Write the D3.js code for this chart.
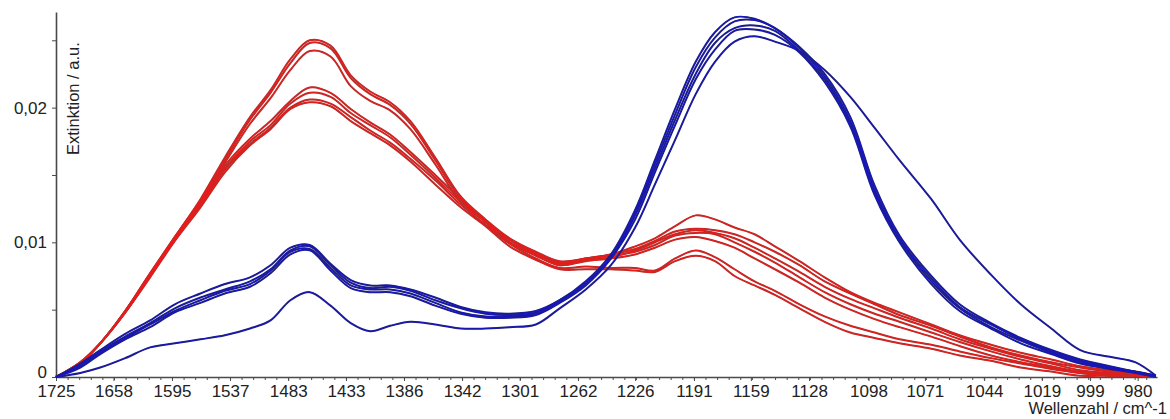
<!DOCTYPE html>
<html><head><meta charset="utf-8">
<script src="https://cdn.jsdelivr.net/npm/d3@7"></script>
<style>
body{margin:0;background:#fff}
svg{display:block}
text{font-family:"Liberation Sans",Arial,sans-serif;fill:#222}
</style>
</head><body>
<svg id="c" width="1170" height="419"></svg>
<script>
// wavenumbers (cm^-1) at which the spectra were read
const wavenumbers = [1725,1696,1673,1645,1618,1592,1566,1542,1518,1499,1481,1464,1446,1429,1413,1397,1381,1362,1343,1325,1308,1290,1274,1257,1241,1226,1214,1202,1190,1179,1168,1157,1146,1133,1120,1107,1095,1083,1068,1055,1041,1028,1015,1003,991,981,973];

// red spectra
const redA = [0,.0011,.0025,.0049,.0077,.0104,.0132,.0163,.0193,.0213,.0236,.0250,.0246,.0224,.0212,.0204,.0190,.0163,.0134,.0117,.0103,.0093,.0086,.0088,.0091,.0097,.0103,.0112,.0120,.0117,.0111,.0106,.0097,.0086,.0074,.0063,.0055,.0048,.0039,.0031,.0024,.0018,.0013,.0008,.0005,.0004,.0001];
const redB = [0,.0011,.0025,.0049,.0077,.0104,.0131,.0161,.0191,.0211,.0233,.0248,.0244,.0222,.0210,.0202,.0188,.0161,.0132,.0116,.0102,.0092,.0085,.0088,.0091,.0095,.0101,.0108,.0110,.0109,.0106,.0100,.0093,.0083,.0071,.0062,.0054,.0046,.0038,.0030,.0022,.0016,.0011,.0007,.0004,.0003,.0001];
const redC = [0,.0011,.0025,.0049,.0076,.0103,.0130,.0159,.0188,.0207,.0228,.0242,.0238,.0216,.0205,.0198,.0184,.0158,.0130,.0115,.0100,.0091,.0083,.0087,.0089,.0094,.0100,.0106,.0109,.0107,.0103,.0096,.0088,.0078,.0067,.0058,.0051,.0044,.0036,.0028,.0021,.0015,.0010,.0005,.0003,.0002,0];
const redD = [0,.0011,.0025,.0048,.0076,.0103,.0129,.0157,.0177,.0190,.0205,.0215,.0211,.0199,.0189,.0180,.0167,.0150,.0132,.0115,.0102,.0091,.0084,.0088,.0090,.0093,.0098,.0105,.0107,.0106,.0100,.0093,.0085,.0074,.0063,.0054,.0047,.0041,.0033,.0026,.0019,.0013,.0008,.0004,.0002,.0001,0];
const redE = [0,.0010,.0025,.0048,.0075,.0103,.0128,.0155,.0175,.0187,.0203,.0211,.0208,.0196,.0187,.0178,.0165,.0148,.0130,.0115,.0100,.0090,.0083,.0086,.0088,.0091,.0096,.0102,.0104,.0101,.0096,.0088,.0080,.0070,.0059,.0050,.0043,.0037,.0030,.0023,.0016,.0011,.0007,.0003,.0001,.0001,0];
const redF = [0,.0010,.0025,.0048,.0075,.0102,.0127,.0154,.0173,.0185,.0200,.0206,.0203,.0193,.0183,.0174,.0162,.0146,.0128,.0113,.0099,.0088,.0081,.0082,.0081,.0081,.0079,.0088,.0094,.0089,.0080,.0071,.0064,.0054,.0045,.0038,.0033,.0028,.0024,.0019,.0014,.0010,.0006,.0003,.0001,.0001,0];
const redG = [0,.0010,.0025,.0048,.0074,.0101,.0126,.0152,.0172,.0184,.0199,.0204,.0201,.0190,.0181,.0172,.0160,.0143,.0126,.0112,.0097,.0087,.0080,.0080,.0080,.0079,.0078,.0086,.0090,.0086,.0075,.0068,.0061,.0051,.0041,.0033,.0029,.0025,.0021,.0016,.0012,.0007,.0004,.0001,.0001,.0001,0];

// blue spectra
const blue1 = [0,.0010,.0020,.0032,.0042,.0054,.0062,.0069,.0074,.0083,.0096,.0098,.0084,.0072,.0068,.0068,.0065,.0059,.0052,.0048,.0047,.0049,.0057,.0071,.0091,.0124,.0161,.0199,.0234,.0256,.0267,.0266,.0259,.0245,.0225,.0193,.0142,.0105,.0075,.0054,.0040,.0029,.0020,.0013,.0008,.0004,.0001];
const blue2 = [0,.0009,.0019,.0030,.0040,.0051,.0059,.0065,.0071,.0080,.0094,.0097,.0083,.0070,.0066,.0067,.0064,.0057,.0051,.0047,.0046,.0048,.0057,.0070,.0089,.0122,.0158,.0195,.0230,.0252,.0264,.0265,.0259,.0244,.0223,.0190,.0139,.0103,.0073,.0052,.0039,.0028,.0019,.0012,.0007,.0004,.0001];
const blue3 = [0,.0008,.0018,.0029,.0039,.0049,.0057,.0064,.0069,.0079,.0093,.0095,.0081,.0068,.0065,.0065,.0062,.0055,.0048,.0045,.0045,.0047,.0056,.0069,.0088,.0120,.0155,.0191,.0225,.0248,.0259,.0261,.0257,.0242,.0221,.0188,.0137,.0102,.0071,.0051,.0037,.0027,.0018,.0011,.0007,.0004,.0001];
const blue4 = [0,.0007,.0017,.0028,.0037,.0048,.0055,.0062,.0067,.0077,.0091,.0094,.0079,.0066,.0063,.0063,.0060,.0053,.0047,.0044,.0044,.0046,.0055,.0068,.0088,.0117,.0152,.0187,.0221,.0243,.0257,.0258,.0254,.0241,.0219,.0186,.0135,.0100,.0069,.0049,.0036,.0025,.0017,.0010,.0006,.0003,0];
const blue5 = [0,.0003,.0007,.0014,.0022,.0025,.0028,.0031,.0036,.0042,.0057,.0063,.0053,.0040,.0034,.0038,.0041,.0039,.0036,.0036,.0037,.0039,.0051,.0065,.0083,.0111,.0143,.0176,.0210,.0234,.0249,.0253,.0249,.0242,.0228,.0208,.0185,.0161,.0132,.0102,.0076,.0054,.0036,.0020,.0015,.0011,.0001];

// axis tick labels
const xTickLabels = [1725,1658,1595,1537,1483,1433,1386,1342,1301,1262,1226,1191,1159,1128,1098,1071,1044,1019,999,980];
const yTickValues = [0,0.005,0.01,0.015,0.02,0.025];
const yTickLabels = ["0","","0,01","","0,02",""];
const xTitle = "Wellenzahl / cm^-1";
const yTitle = "Extinktion / a.u.";

const redSeries = [redA,redB,redC,redD,redE,redF,redG];
const blueSeries = [blue1,blue2,blue3,blue4,blue5];

const svg = d3.select("#c");
const toLambda = wn => 1e4 / wn;           // axis is linear in wavelength
const xs = d3.scaleLinear().domain([toLambda(1725), toLambda(972.5)]).range([56, 1157]);
const x = wn => xs(toLambda(wn));
const y = d3.scaleLinear().domain([0, 0.0271]).range([377, 12]);

const axisColor = "#4a4a4a";
const font = '"Liberation Sans",Arial,sans-serif';

// minor ticks on x
const majorStep = (toLambda(1019) - toLambda(1725)) / 17;
const minorVals = d3.range(xs.domain()[0], xs.domain()[1] + 1e-9, majorStep / 5);
const gxMinor = svg.append("g").attr("transform","translate(0,377)")
  .call(d3.axisBottom(xs).tickValues(minorVals).tickFormat("").tickSize(3).tickSizeOuter(0));
gxMinor.select(".domain").remove();
gxMinor.selectAll("line").attr("stroke", axisColor);

const gx = svg.append("g").attr("transform","translate(0,377)")
  .call(d3.axisBottom(xs).tickValues(xTickLabels.map(toLambda)).tickFormat((d,i)=>xTickLabels[i]).tickSize(4).tickPadding(4).tickSizeOuter(0));
gx.select(".domain").attr("stroke", axisColor).attr("stroke-width",1.6);
gx.selectAll("line").attr("stroke", axisColor);
gx.selectAll("text").attr("font-size",17).attr("font-family",font).attr("fill","#222");

const gy = svg.append("g").attr("transform","translate(56,0)")
  .call(d3.axisLeft(y).tickValues(yTickValues).tickFormat((d,i)=>yTickLabels[i]).tickSize(4).tickPadding(5).tickSizeOuter(0));
gy.select(".domain").attr("stroke", axisColor).attr("stroke-width",1.6);
gy.selectAll("line").attr("stroke", axisColor);
gy.selectAll("text").attr("font-size",17).attr("font-family",font).attr("fill","#222")
  .attr("dy", d => d === 0 ? "0em" : "0.32em");

// titles
svg.append("text").attr("x",1167).attr("y",414).attr("text-anchor","end")
  .attr("font-size",16.5).text(xTitle);
svg.append("text").attr("transform","translate(79,155) rotate(-90)").attr("text-anchor","start")
  .attr("font-size",16.5).text(yTitle);

const line = d3.line().x((d,i)=>x(wavenumbers[i])).y(d=>y(d)).curve(d3.curveCatmullRom.alpha(0.5));

const gl = svg.append("g");
function drawSeries(series, outer, inner){
  series.forEach(s=>{
    gl.append("path").attr("d",line(s)).attr("fill","none").attr("stroke",outer).attr("stroke-width",2.0).attr("stroke-linejoin","round");
  });
  series.forEach(s=>{
    gl.append("path").attr("d",line(s)).attr("fill","none").attr("stroke",inner).attr("stroke-width",0.9).attr("stroke-linejoin","round");
  });
}
drawSeries(redSeries, "#b0302c", "#ee1a1a");
drawSeries(blueSeries, "#23237a", "#1414c8");
</script>
</body></html>
